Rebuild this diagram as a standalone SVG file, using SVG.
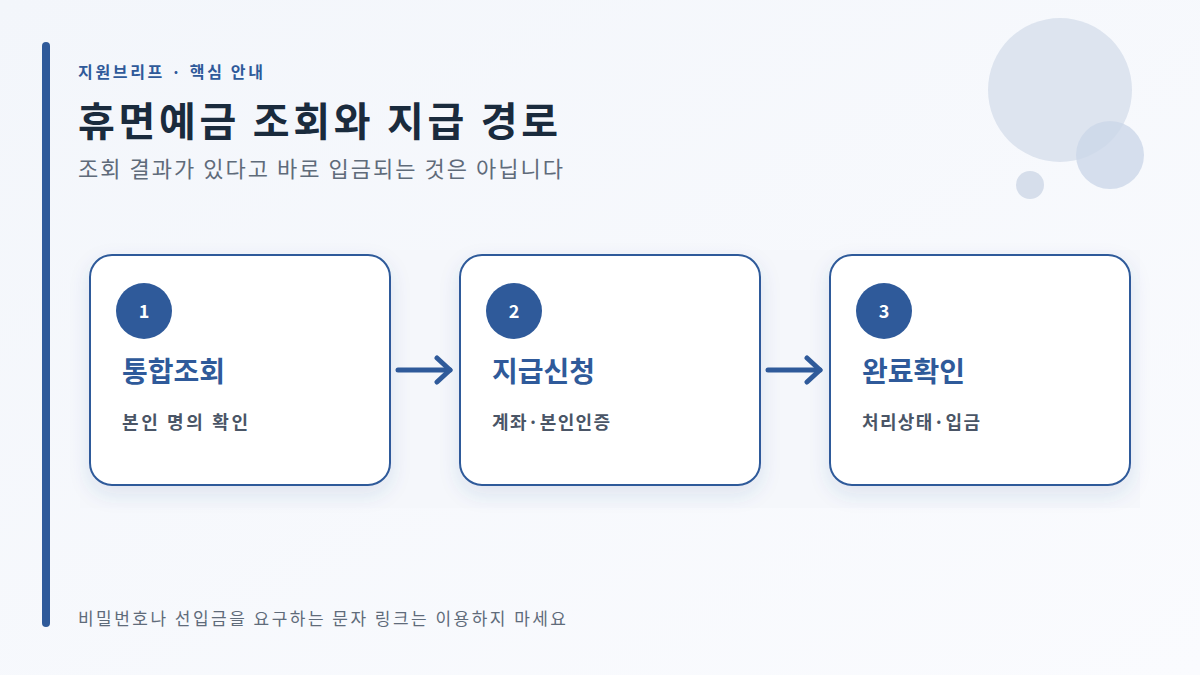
<svg xmlns="http://www.w3.org/2000/svg" width="1200" height="675" viewBox="0 0 1200 675">
<defs>
<linearGradient id="bg" x1="0" y1="0" x2="1" y2="1"><stop offset="0" stop-color="#f3f6fb"/><stop offset="1" stop-color="#fafbfe"/></linearGradient>
<filter id="sh" x="-20%" y="-20%" width="140%" height="150%"><feDropShadow dx="0" dy="8" stdDeviation="10" flood-color="#2f5a9a" flood-opacity="0.12"/></filter>
<marker id="ah" viewBox="0 0 20 30" refX="16" refY="15" markerWidth="20" markerHeight="30" markerUnits="userSpaceOnUse" orient="auto"><path d="M3 3 L16 15 L3 27" fill="none" stroke="#2f5a9a" stroke-width="5" stroke-linecap="round" stroke-linejoin="round"/></marker>
<style>
text{font-family:"Noto Sans CJK KR","Noto Sans",sans-serif}
.card{fill:#fff;stroke:#2f5a9a;stroke-width:2}
.num{fill:#2f5a9a}
.nt{fill:#fff;font-size:18px;font-weight:700;text-anchor:middle}
.tt{fill:#2f5a9a;font-size:28px;font-weight:700}
.st{fill:#4a5566;font-size:18px;font-weight:700}
.con{stroke:#2f5a9a;stroke-width:5;stroke-linecap:round;fill:none}
</style>
</defs>
<rect width="1200" height="675" fill="url(#bg)"/>
<circle cx="1060" cy="90" r="72" fill="#dde4ef"/>
<circle cx="1110" cy="155" r="34" fill="#ccd7e8" opacity="0.8"/>
<circle cx="1030" cy="185" r="14" fill="#d6deeb"/>
<rect x="42" y="42" width="8" height="585" rx="4" fill="#2f5a9a"/>
<text x="78" y="78" font-size="16" font-weight="700" fill="#2f5a9a" textLength="185" lengthAdjust="spacing">지원브리프 · 핵심 안내</text>
<text x="78" y="136" font-size="40" font-weight="700" fill="#1a2b3d" textLength="480" lengthAdjust="spacing">휴면예금 조회와 지급 경로</text>
<text x="78" y="177" font-size="22" fill="#5f6b7a" textLength="485" lengthAdjust="spacing">조회 결과가 있다고 바로 입금되는 것은 아닙니다</text>
<rect x="80" y="250" width="1060" height="258" fill="#f5f7fb"/>
<g id="n1"><rect class="card" x="90" y="255" width="300" height="230" rx="22" filter="url(#sh)"/><circle class="num" cx="144" cy="311" r="28"/><text class="nt" x="144" y="318">1</text><text class="tt" x="122" y="382">통합조회</text><text class="st" x="122" y="429" textLength="126" lengthAdjust="spacing">본인 명의 확인</text></g>
<g id="n2"><rect class="card" x="460" y="255" width="300" height="230" rx="22" filter="url(#sh)"/><circle class="num" cx="514" cy="311" r="28"/><text class="nt" x="514" y="318">2</text><text class="tt" x="492" y="382">지급신청</text><text class="st" x="492" y="429" textLength="118" lengthAdjust="spacing">계좌·본인인증</text></g>
<g id="n3"><rect class="card" x="830" y="255" width="300" height="230" rx="22" filter="url(#sh)"/><circle class="num" cx="884" cy="311" r="28"/><text class="nt" x="884" y="318">3</text><text class="tt" x="862" y="382">완료확인</text><text class="st" x="862" y="429" textLength="118" lengthAdjust="spacing">처리상태·입금</text></g>
<g id="connectors">
<line class="con" x1="398" y1="370" x2="450" y2="370" marker-end="url(#ah)"/>
<line class="con" x1="768" y1="370" x2="820" y2="370" marker-end="url(#ah)"/>
</g>
<text x="78" y="625" font-size="17" fill="#5f6b7a" textLength="488" lengthAdjust="spacing">비밀번호나 선입금을 요구하는 문자 링크는 이용하지 마세요</text>
</svg>
